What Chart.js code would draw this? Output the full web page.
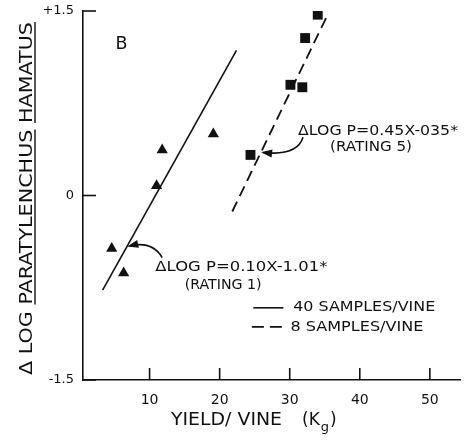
<!DOCTYPE html>
<html>
<head>
<meta charset="utf-8">
<script src="https://cdn.jsdelivr.net/npm/chart.js@4.4.1/dist/chart.umd.min.js"></script>
<style>
  html, body { margin: 0; padding: 0; background: #fff; }
  #wrap { width: 470px; height: 440px; }
</style>
</head>
<body>
<div id="wrap"><canvas id="chart" width="470" height="440"></canvas></div>
<script>
// values
const triYield = [4.6, 6.3, 11.0, 11.8, 19.1];
const triLogP = [-0.43, -0.63, 0.08, 0.37, 0.50];
const sqYield = [24.4, 30.1, 31.8, 32.2, 34.0];
const sqLogP = [0.33, 0.90, 0.88, 1.28, 1.47];
const solidFitX = [3.3, 22.4];
const solidFitY = [-0.77, 1.18];
const dashFitX = [21.8, 35.5];
const dashFitY = [-0.13, 1.48];
const xTicks = [10, 20, 30, 40, 50];
const yTicks = [-1.5, 0, 1.5];

const FONT = '"DejaVu Sans", "Liberation Sans", sans-serif';
const INK = '#111';

function pts(xs, ys) {
    return xs.map((x, i) => ({ x: x, y: ys[i] }));
}

// draw text squeezed/stretched to a given width
function fitText(ctx, text, x, y, width, align) {
    const w = ctx.measureText(text).width;
    const k = width / w;
    ctx.save();
    let left = x;
    if (align === 'center') left = x - width / 2;
    ctx.translate(left, y);
    ctx.scale(k, 1);
    ctx.textAlign = 'left';
    ctx.fillText(text, 0, 0);
    ctx.restore();
}

function arrow(ctx, sx, sy, cx, cy, tx, ty) {
    ctx.beginPath();
    ctx.moveTo(sx, sy);
    ctx.quadraticCurveTo(cx, cy, tx, ty);
    ctx.lineWidth = 1.6;
    ctx.stroke();
    const a = Math.atan2(ty - cy, tx - cx);
    const len = 9, half = 4;
    ctx.beginPath();
    ctx.moveTo(tx + Math.cos(a) * 2, ty + Math.sin(a) * 2);
    ctx.lineTo(tx - Math.cos(a) * len - Math.sin(a) * half, ty - Math.sin(a) * len + Math.cos(a) * half);
    ctx.lineTo(tx - Math.cos(a) * len + Math.sin(a) * half, ty - Math.sin(a) * len - Math.cos(a) * half);
    ctx.closePath();
    ctx.fill();
}

const extras = {
    id: 'extras',
    afterDraw(chart) {
        const ctx = chart.ctx;
        const xs = chart.scales.x, ys = chart.scales.y;
        const area = chart.chartArea;
        const px = v => xs.getPixelForValue(v);
        const py = v => ys.getPixelForValue(v);

        ctx.save();
        ctx.strokeStyle = INK;
        ctx.fillStyle = INK;
        ctx.lineWidth = 1.6;

        // inward tick marks
        yTicks.forEach(v => {
            ctx.beginPath();
            ctx.moveTo(area.left, py(v));
            ctx.lineTo(area.left + 13, py(v));
            ctx.stroke();
        });
        xTicks.forEach(v => {
            ctx.beginPath();
            ctx.moveTo(px(v), area.bottom);
            ctx.lineTo(px(v), area.bottom - 12);
            ctx.stroke();
        });

        ctx.textBaseline = 'middle';

        // panel letter
        ctx.font = '17px ' + FONT;
        fitText(ctx, 'B', px(6.0), py(1.23), 12, 'center');

        // regression labels
        ctx.font = '14px ' + FONT;
        fitText(ctx, 'ΔLOG P=0.45X-035*', px(42.6), py(0.52), 160, 'center');
        fitText(ctx, '(RATING 5)', px(41.6), py(0.39), 82, 'center');
        fitText(ctx, 'ΔLOG P=0.10X-1.01*', px(23.1), py(-0.587), 172, 'center');
        fitText(ctx, '(RATING 1)', px(20.5), py(-0.733), 77, 'center');

        arrow(ctx, px(31.9), py(0.473), px(31.05), py(0.318), px(26.2), py(0.35));
        arrow(ctx, px(11.8), py(-0.505), px(10.4), py(-0.367), px(7.1), py(-0.41));

        // legend
        ctx.lineWidth = 1.6;
        ctx.beginPath();
        ctx.moveTo(px(24.8), py(-0.913));
        ctx.lineTo(px(29.1), py(-0.913));
        ctx.stroke();
        ctx.setLineDash([12, 6]);
        ctx.beginPath();
        ctx.moveTo(px(24.6), py(-1.068));
        ctx.lineTo(px(29.6), py(-1.068));
        ctx.stroke();
        ctx.setLineDash([]);
        fitText(ctx, '40 SAMPLES/VINE', px(30.5), py(-0.913), 142, 'left');
        fitText(ctx, '8 SAMPLES/VINE', px(30.1), py(-1.068), 133, 'left');

        // x axis title with subscript g
        ctx.textBaseline = 'alphabetic';
        ctx.font = '17px ' + FONT;
        fitText(ctx, 'YIELD/ VINE', 171, 425, 111, 'left');
        ctx.textAlign = 'left';
        ctx.fillText('(K', 302, 425);
        let gx = 302 + ctx.measureText('(K').width + 1;
        ctx.font = '13px ' + FONT;
        ctx.fillText('g', gx, 431);
        gx += ctx.measureText('g').width + 1;
        ctx.font = '17px ' + FONT;
        ctx.fillText(')', gx, 425);

        // y axis title, rotated, with underlined genus and species
        const title = 'Δ LOG PARATYLENCHUS HAMATUS';
        const total = 353;
        ctx.font = '18px ' + FONT;
        const k = total / ctx.measureText(title).width;
        ctx.save();
        ctx.translate(32, 375);
        ctx.rotate(-Math.PI / 2);
        ctx.scale(k, 1);
        ctx.fillText(title, 0, 0);
        ctx.lineWidth = 1.4;
        ['PARATYLENCHUS', 'HAMATUS'].forEach(word => {
            const start = ctx.measureText(title.slice(0, title.indexOf(word))).width;
            const w = ctx.measureText(word).width;
            ctx.beginPath();
            ctx.moveTo(start, 3);
            ctx.lineTo(start + w, 3);
            ctx.stroke();
        });
        ctx.restore();

        ctx.restore();
    }
};

const chart = new Chart(document.getElementById('chart'), {
    type: 'scatter',
    data: {
        datasets: [
            {
                label: '40 samples/vine',
                data: pts(triYield, triLogP),
                pointStyle: 'triangle',
                pointRadius: 6.5,
                backgroundColor: INK,
                borderColor: INK,
                borderWidth: 0
            },
            {
                label: '8 samples/vine',
                data: pts(sqYield, sqLogP),
                pointStyle: 'rect',
                pointRadius: 7,
                backgroundColor: INK,
                borderColor: INK,
                borderWidth: 0
            },
            {
                label: 'fit rating 1',
                data: pts(solidFitX, solidFitY),
                showLine: true,
                borderColor: INK,
                borderWidth: 1.6,
                pointRadius: 0
            },
            {
                label: 'fit rating 5',
                data: pts(dashFitX, dashFitY),
                showLine: true,
                borderColor: INK,
                borderWidth: 1.8,
                borderDash: [11, 6],
                pointRadius: 0
            }
        ]
    },
    options: {
        responsive: false,
        animation: false,
        layout: { padding: { top: 11, right: 10, left: 0, bottom: 0 } },
        plugins: {
            legend: { display: false },
            tooltip: { enabled: false }
        },
        scales: {
            x: {
                type: 'linear',
                min: 0.5,
                max: 54.3,
                afterBuildTicks: s => { s.ticks = xTicks.map(v => ({ value: v })); },
                afterFit: s => { s.height = 60; s.paddingLeft = 0; s.paddingRight = 0; },
                grid: { display: false, drawTicks: false },
                border: { display: true, color: INK, width: 1.6 },
                ticks: {
                    padding: 12,
                    color: INK,
                    font: { family: FONT, size: 14 }
                }
            },
            y: {
                type: 'linear',
                min: -1.5,
                max: 1.5,
                afterBuildTicks: s => { s.ticks = yTicks.map(v => ({ value: v })); },
                afterFit: s => { s.width = 83; s.paddingTop = 0; s.paddingBottom = 0; },
                grid: { display: false, drawTicks: false },
                border: { display: true, color: INK, width: 1.6 },
                ticks: {
                    padding: 9,
                    color: INK,
                    font: { family: FONT, size: 13 },
                    callback: v => v > 0 ? '+' + v : String(v)
                }
            }
        }
    },
    plugins: [extras]
});
</script>
</body>
</html>
